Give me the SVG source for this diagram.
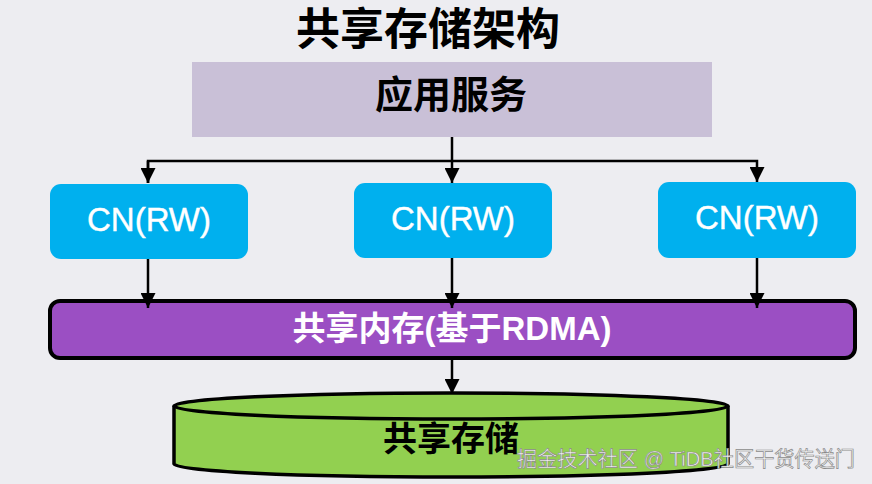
<svg xmlns="http://www.w3.org/2000/svg" width="872" height="484" viewBox="0 0 872 484">
<defs>
<style>
.cjk{font-family:"Liberation Sans","Noto Sans CJK SC",sans-serif;font-weight:bold;text-anchor:middle}
.cn{font-family:"Liberation Sans","Noto Sans CJK SC",sans-serif;font-size:33px;fill:#fff;text-anchor:middle;stroke:#fff;stroke-width:0.4}
.cnbox{fill:#00B0EE}
.ln{stroke:#000;stroke-width:2.5;fill:none}
</style>
<marker id="a" viewBox="0 0 15 15" refX="15" refY="7.5" markerWidth="15" markerHeight="15" orient="auto" markerUnits="userSpaceOnUse">
<path d="M0,0 L15,7.5 L0,15 Z" fill="#000"/>
</marker>
</defs>
<rect width="872" height="484" fill="#EDEDF1"/>
<text id="title" class="cjk" x="428" y="45" font-size="44" fill="#000">共享存储架构</text>
<g id="app">
<rect x="192" y="62" width="520" height="75" fill="#C9C0D7"/>
<text class="cjk" x="451" y="108" font-size="38" fill="#000">应用服务</text>
</g>
<g id="cn1">
<rect class="cnbox" x="50" y="184" width="198" height="75" rx="11"/>
<text class="cn" x="149" y="231">CN(RW)</text>
</g>
<g id="cn2">
<rect class="cnbox" x="354" y="183" width="198" height="75" rx="11"/>
<text class="cn" x="453" y="230">CN(RW)</text>
</g>
<g id="cn3">
<rect class="cnbox" x="658" y="182" width="198" height="76" rx="11"/>
<text class="cn" x="757" y="229">CN(RW)</text>
</g>
<g id="mem">
<rect x="50" y="301" width="805" height="57" rx="10" fill="#9B4FC3" stroke="#000" stroke-width="4"/>
<text class="cjk" x="452" y="340" font-size="33" fill="#fff">共享内存(基于RDMA)</text>
</g>
<g id="storage">
<path d="M174,406 L174,464 A277,13 0 0 0 728,464 L728,406" fill="#92D050" stroke="#000" stroke-width="3.5"/>
<ellipse cx="451" cy="406" rx="277" ry="13" fill="#92D050" stroke="#000" stroke-width="3.5"/>
<text class="cjk" x="451" y="451" font-size="34" fill="#000">共享存储</text>
</g>
<g id="connectors">
<line class="ln" x1="452" y1="137" x2="452" y2="183" marker-end="url(#a)"/>
<polyline class="ln" points="148,183 148,161 757,161 757,182" marker-end="url(#a)"/>
<line class="ln" x1="148" y1="161" x2="148" y2="183" marker-end="url(#a)"/>
<line class="ln" x1="148" y1="259" x2="148" y2="308" marker-end="url(#a)"/>
<line class="ln" x1="452" y1="258" x2="452" y2="308" marker-end="url(#a)"/>
<line class="ln" x1="757" y1="258" x2="757" y2="308" marker-end="url(#a)"/>
<line class="ln" x1="452" y1="360" x2="452" y2="394" marker-end="url(#a)"/>
</g>
<text id="watermark" x="517" y="466" font-family="'Liberation Sans','Noto Sans CJK SC',sans-serif" font-size="21" fill="#F4F4F4" stroke="#8A8A8A" stroke-width="0.7" textLength="338" lengthAdjust="spacingAndGlyphs">掘金技术社区 @ TiDB社区干货传送门</text>
</svg>
